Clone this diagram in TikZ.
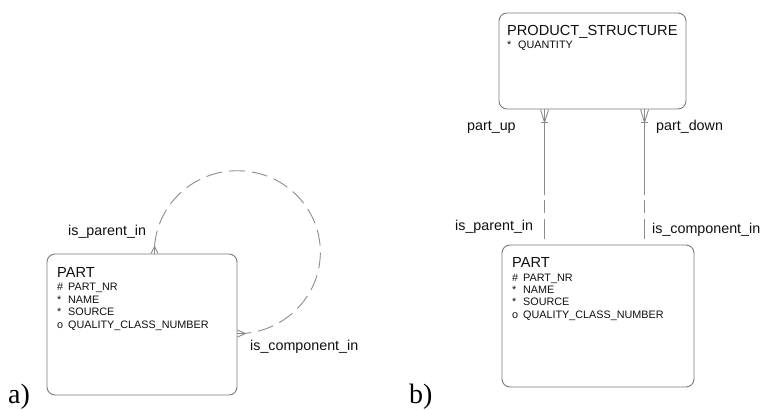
\documentclass[tikz,border=0pt]{standalone}
\usepackage{fontspec}
\setmainfont{Liberation Sans}
\newfontfamily\tagfont{Liberation Serif}
\usetikzlibrary{calc}
\definecolor{boxgray}{HTML}{7A7A7A}
\definecolor{linegray}{HTML}{8C8C8C}
\definecolor{ink}{HTML}{101010}
\begin{document}
\begin{tikzpicture}[x=1pt,y=1pt,
  entity/.style={draw=boxgray, line width=0.9pt, rounded corners=8pt, inner sep=0pt},
  conn/.style={draw=linegray, line width=0.9pt},
  ename/.style={anchor=base west, inner sep=0pt, font=\fontsize{14.6}{16}\selectfont, text=ink},
  attr/.style={anchor=base west, inner sep=0pt, font=\fontsize{10.8}{12}\selectfont, text=ink},
  rel/.style={anchor=base west, inner sep=0pt, font=\fontsize{14.3}{16}\selectfont, text=ink},
  tag/.style={anchor=base west, inner sep=0pt, font=\tagfont\fontsize{28}{30}\selectfont, text=black},
]
\useasboundingbox (0,0) rectangle (764,-410);
\fill[white] (0,0) rectangle (764,-410);

% ---------- a) recursive relationship on PART ----------
\node[entity, minimum width=190pt, minimum height=141pt] (lpart) at (142,-324.5) {};
\node[ename] (lpname) at (57,-277) {PART};
\node[attr] (lpa1) at (57,-290.5) {\makebox[11pt][l]{\#}PART\_NR};
\node[attr] (lpa2) at (57,-303) {\makebox[11pt][l]{*}NAME};
\node[attr] (lpa3) at (57,-315.5) {\makebox[11pt][l]{*}SOURCE};
\node[attr] (lpa4) at (57,-328) {\makebox[11pt][l]{o}QUALITY\_CLASS\_NUMBER};

% ends of the loop on the box
\coordinate (lpA) at ($(lpart.north west)+(108,0)$);
\coordinate (lpB) at ($(lpart.north east)+(0,-80)$);
% crow's feet
\draw[conn] ($(lpA)+(-3.5,0)$) -- ($(lpA)+(0,7)$) -- ($(lpA)+(3.5,0)$);
\draw[conn] (lpA) -- ++(0,7);
\draw[conn] ($(lpB)+(0,3.5)$) -- ($(lpB)+(8,0)$) -- ($(lpB)+(0,-3.5)$);
\draw[conn] (lpB) -- ++(8,0);
% dashed loop
\draw[conn, dash pattern=on 16pt off 7pt] ($(lpA)+(0,7)$)
  arc[start angle=176, end angle=-85, x radius=83, y radius=81.5];

\node[rel] (lpin) at (68,-235) {is\_parent\_in};
\node[rel] (lcin) at (250,-350) {is\_component\_in};

\node[tag] (taga) at (8,-403) {a)};

% ---------- b) resolved through PRODUCT_STRUCTURE ----------
\node[entity, minimum width=187pt, minimum height=96pt] (ps) at (592.5,-61) {};
\node[ename] (psname) at (507,-35) {PRODUCT\_STRUCTURE};
\node[attr] (psa1) at (507,-48) {\makebox[11pt][l]{*}QUANTITY};

\node[entity, minimum width=192pt, minimum height=142pt] (rpart) at (598,-316) {};
\node[ename] (rpname) at (512,-267) {PART};
\node[attr] (rpa1) at (512,-281) {\makebox[11pt][l]{\#}PART\_NR};
\node[attr] (rpa2) at (512,-293.3) {\makebox[11pt][l]{*}NAME};
\node[attr] (rpa3) at (512,-305.6) {\makebox[11pt][l]{*}SOURCE};
\node[attr] (rpa4) at (512,-318) {\makebox[11pt][l]{o}QUALITY\_CLASS\_NUMBER};

% two relationships: solid half at PRODUCT_STRUCTURE, dashed half at PART
\foreach \nm/\dx in {up/46, down/146}{
  \coordinate (t\nm) at ($(ps.south west)+(\dx,0)$);
  \coordinate (b\nm) at (t\nm |- rpart.north);
  \coordinate (m\nm) at ($(t\nm)+(0,-86)$);
  \draw[conn] ($(t\nm)+(-4,0)$) -- ($(t\nm)+(0,-13)$) -- ($(t\nm)+(4,0)$);
  \draw[conn] ($(t\nm)+(-3.5,-13)$) -- ($(t\nm)+(3.5,-13)$);
  \draw[conn] (t\nm) -- (m\nm);
  \draw[conn, dash pattern=on 0pt off 5pt on 13pt off 6pt on 20pt off 6pt] (m\nm) -- (b\nm);
}

\node[rel] (pup) at (467,-130) {part\_up};
\node[rel] (pdown) at (656,-130) {part\_down};
\node[rel] (rpin) at (455,-230) {is\_parent\_in};
\node[rel] (rcin) at (652,-233) {is\_component\_in};

\node[tag] (tagb) at (409,-403) {b)};
\end{tikzpicture}
\end{document}
